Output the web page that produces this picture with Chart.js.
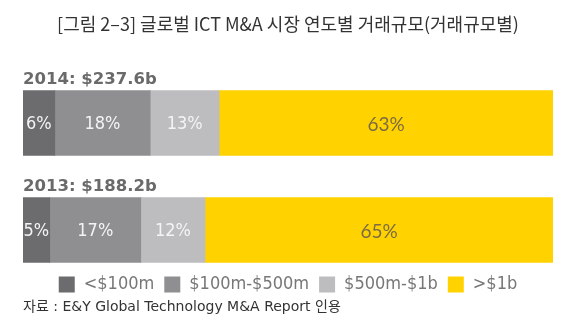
<!DOCTYPE html>
<html>
<head>
<meta charset="utf-8">
<script src="https://cdn.jsdelivr.net/npm/chart.js@4.4.1/dist/chart.umd.min.js"></script>
<style>
  html, body { margin: 0; padding: 0; background: #ffffff; }
  #wrap { width: 575px; height: 328px; }
</style>
</head>
<body>
<div id="wrap"><canvas id="chart" width="575" height="328"></canvas></div>
<script>
// Deal years and the total value announced in each year
const years = [2014, 2013];
const totals = ['$237.6b', '$188.2b'];

// Deal size bands and each band's share of the year's deals (%)
const sizeBands = ['<$100m', '$100m-$500m', '$500m-$1b', '>$1b'];
const under100m = [6, 5];
const from100mTo500m = [18, 17];
const from500mTo1b = [13, 12];
const over1b = [63, 65];

const titleText = '[그림 2–3] 글로벌 ICT M&A 시장 연도별 거래규모(거래규모별)';
const sourceText = '자료 : E&Y Global Technology M&A Report 인용';

const bandShares = [under100m, from100mTo500m, from500mTo1b, over1b];
const bandColors = ['#6c6c6f', '#8f8f92', '#bdbdc0', '#ffd200'];
const bandLabelColors = ['#f4f4f4', '#f4f4f4', '#f4f4f4', '#7b6c44'];
const bandLabelFonts = [
  '18px "DejaVu Sans Condensed", "DejaVu Sans", sans-serif',
  '18px "DejaVu Sans Condensed", "DejaVu Sans", sans-serif',
  '18px "DejaVu Sans Condensed", "DejaVu Sans", sans-serif',
  '19px Lato, "Open Sans", sans-serif'
];

// Each year's bar is a 100% stack: every share is scaled by that year's sum
const yearSums = years.map((_, i) => bandShares.reduce((s, band) => s + band[i], 0));

const datasets = sizeBands.map((band, b) => ({
  label: band,
  data: years.map((yr, i) => ({ x: bandShares[b][i] / yearSums[i] * 100, y: yr })),
  shares: bandShares[b],
  backgroundColor: bandColors[b],
  borderWidth: 0,
  barThickness: 65,
  labelColor: bandLabelColors[b],
  labelFont: bandLabelFonts[b]
}));

// Percentage inside each segment plus the "year: total" heading over each bar
const barText = {
  id: 'barText',
  afterDatasetsDraw(chart) {
    const ctx = chart.ctx;
    ctx.save();
    chart.data.datasets.forEach((ds, di) => {
      const meta = chart.getDatasetMeta(di);
      meta.data.forEach((bar, i) => {
        ctx.font = ds.labelFont;
        ctx.fillStyle = ds.labelColor;
        ctx.textAlign = 'center';
        ctx.textBaseline = 'middle';
        ctx.fillText(ds.shares[i] + '%', (bar.x + bar.base) / 2, bar.y + 1.5);
      });
    });
    const first = chart.getDatasetMeta(0);
    first.data.forEach((bar, i) => {
      ctx.font = 'bold 16.5px "DejaVu Sans", sans-serif';
      ctx.fillStyle = '#6a6a6a';
      ctx.textAlign = 'left';
      ctx.textBaseline = 'alphabetic';
      ctx.fillText(years[i] + ': ' + totals[i], bar.base, bar.y - bar.height / 2 - 6.5);
    });
    ctx.restore();
  }
};

new Chart(document.getElementById('chart'), {
  type: 'bar',
  data: { datasets },
  plugins: [barText],
  options: {
    indexAxis: 'y',
    responsive: false,
    animation: false,
    events: [],
    layout: { padding: { left: 23, right: 22, top: 0, bottom: 0 } },
    scales: {
      x: { type: 'linear', stacked: true, min: 0, max: 100, display: false },
      y: { type: 'linear', stacked: true, offset: false, min: 2012.6673, max: 2014.5925, display: false }
    },
    plugins: {
      title: {
        display: true,
        text: titleText,
        color: '#333333',
        font: { family: '"Noto Sans CJK KR", sans-serif', size: 18, weight: 'normal', lineHeight: 1.2 },
        padding: { top: 13, bottom: 25 }
      },
      subtitle: {
        display: true,
        position: 'bottom',
        align: 'start',
        text: sourceText,
        color: '#333333',
        font: { family: '"DejaVu Sans", "Noto Sans CJK KR", sans-serif', size: 14, weight: 'normal', lineHeight: 0.6 },
        padding: { top: 0, bottom: 16 }
      },
      legend: {
        display: true,
        position: 'bottom',
        labels: {
          color: '#777777',
          font: { family: '"DejaVu Sans Condensed", "DejaVu Sans", sans-serif', size: 18 },
          boxWidth: 16,
          boxHeight: 16,
          padding: 10
        }
      },
      tooltip: { enabled: false }
    }
  }
});
</script>
</body>
</html>
